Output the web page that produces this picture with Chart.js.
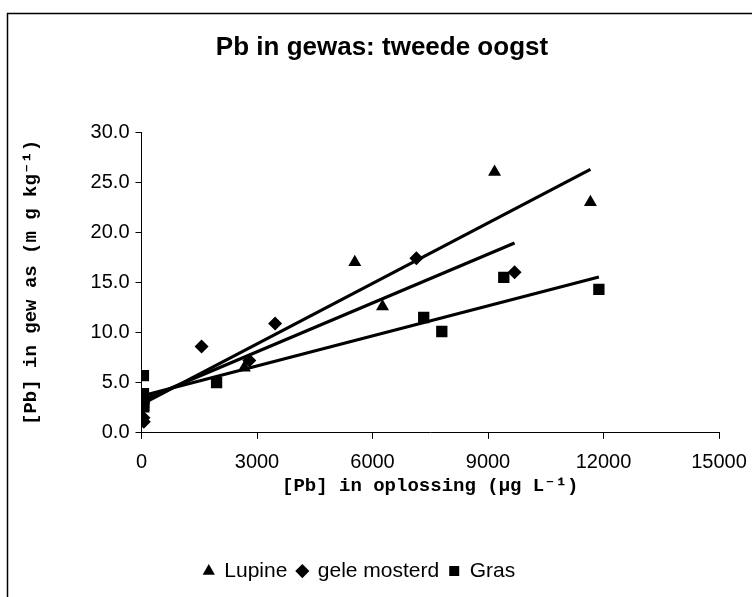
<!DOCTYPE html>
<html><head><meta charset="utf-8">
<script src="https://cdn.jsdelivr.net/npm/chart.js@4.4.0/dist/chart.umd.min.js"></script>
<style>html,body{margin:0;padding:0;background:#fff}#wrap{width:752px;height:597px}</style>
</head><body><div id="wrap"><canvas id="c" width="752" height="597"></canvas></div>
<script>
// ---- data ----
const chartTitle = 'Pb in gewas: tweede oogst';
const xTitle = '[Pb] in oplossing (\u00b5g L\u207b\u00b9)';
const yTitle = '[Pb] in gew as (m g kg\u207b\u00b9)';
const seriesNames = ['Lupine', 'gele mosterd', 'Gras'];

const lupineX = [50, 60, 2670, 5540, 6260, 9170, 11660];
const lupineY = [2.6, 3.3, 6.5, 17.0, 12.6, 26.0, 23.0];

const mosterdX = [50, 60, 1560, 2800, 3470, 7140, 9690];
const mosterdY = [1.5, 1.1, 8.6, 7.2, 10.9, 17.4, 16.0];

const grasX = [50, 50, 60, 60, 1950, 7330, 7800, 9410, 11880];
const grasY = [5.7, 3.9, 3.0, 2.6, 5.0, 11.5, 10.1, 15.5, 14.3];

const xTicks = [0, 3000, 6000, 9000, 12000, 15000];
const yTicks = [0, 5, 10, 15, 20, 25, 30];

// ---- helpers ----
const pts = (xs, ys) => xs.map((x, i) => ({x, y: ys[i]}));
function trend(xs, ys) {
  const n = xs.length;
  const mx = xs.reduce((a, b) => a + b, 0) / n;
  const my = ys.reduce((a, b) => a + b, 0) / n;
  let sxy = 0, sxx = 0;
  for (let i = 0; i < n; i++) { sxy += (xs[i] - mx) * (ys[i] - my); sxx += (xs[i] - mx) ** 2; }
  const b = sxy / sxx, a = my - b * mx;
  const x0 = Math.min(...xs), x1 = Math.max(...xs);
  return [{x: x0, y: a + b * x0}, {x: x1, y: a + b * x1}];
}

const markerDs = (label, data, style, r) => ({
  type: 'scatter', label, data, pointStyle: style, pointRadius: r, pointHoverRadius: r,
  backgroundColor: '#000', borderColor: '#000', borderWidth: 0, showLine: false, order: 2
});
const lineDs = (data) => ({
  type: 'line', label: '_trend', data, showLine: true, pointRadius: 0, borderColor: '#000',
  borderWidth: 3.2, fill: false, tension: 0, order: 1
});

const frame = {
  id: 'frame',
  beforeDraw(chart) {
    const c = chart.ctx;
    c.save();
    c.fillStyle = '#fff'; c.fillRect(0, 0, chart.width, chart.height);
    c.strokeStyle = '#000'; c.lineWidth = 1.5;
    c.strokeRect(7.5, 13.5, 800, 700);
    c.restore();
  },
  afterDraw(chart) {
    const c = chart.ctx;
    c.save();
    c.fillStyle = '#000';
    c.font = 'bold 26px "Liberation Sans", Arial, sans-serif';
    c.textAlign = 'center'; c.textBaseline = 'middle';
    c.fillText(chartTitle, 382, 48);
    c.restore();
  }
};

Chart.defaults.color = '#000';
Chart.defaults.font.family = '"Liberation Sans", Arial, sans-serif';

new Chart(document.getElementById('c'), {
  type: 'scatter',
  data: {
    datasets: [
      markerDs(seriesNames[0], pts(lupineX, lupineY), 'triangle', 7.5),
      markerDs(seriesNames[1], pts(mosterdX, mosterdY), 'rectRot', 7),
      markerDs(seriesNames[2], pts(grasX, grasY), 'rect', 8),
      lineDs(trend(lupineX, lupineY)),
      lineDs(trend(mosterdX, mosterdY)),
      lineDs(trend(grasX, grasY))
    ]
  },
  options: {
    responsive: false,
    devicePixelRatio: 1,
    animation: false,
    layout: {padding: {left: 0, right: 33, top: 132, bottom: 5.4}},
    plugins: {
      title: {display: false},
      tooltip: {enabled: false},
      legend: {
        position: 'bottom',
        labels: {
          usePointStyle: true, boxWidth: 10, boxHeight: 10, padding: 10,
          font: {size: 21}, color: '#000',
          filter: (item) => item.text !== '_trend'
        }
      }
    },
    scales: {
      x: {
        type: 'linear', min: 0, max: 15000,
        afterBuildTicks: (s) => { s.ticks = xTicks.map(v => ({value: v})); },
        afterFit: (s) => { s.height = 117.8; s.paddingRight = 0; s.paddingLeft = 0; },
        ticks: {font: {size: 20}, color: '#000', padding: 12, maxRotation: 0, callback: (v) => String(v)},
        grid: {display: true, drawOnChartArea: false, drawTicks: true, tickLength: 6, color: '#000', lineWidth: 1},
        border: {display: true, color: '#000', width: 1},
        title: {display: true, text: xTitle, color: '#000',
          font: {family: '"Liberation Mono", "Courier New", monospace', size: 19, weight: 'bold'},
          padding: {top: 0, bottom: 53}}
      },
      y: {
        type: 'linear', min: 0, max: 30,
        afterBuildTicks: (s) => { s.ticks = yTicks.map(v => ({value: v})); },
        afterFit: (s) => { s.width = 141.5; },
        ticks: {font: {size: 20}, color: '#000', padding: 6, callback: (v) => Number(v).toFixed(1)},
        grid: {display: true, drawOnChartArea: false, drawTicks: true, tickLength: 6, color: '#000', lineWidth: 1},
        border: {display: true, color: '#000', width: 1},
        title: {display: true, text: yTitle, color: '#000',
          font: {family: '"Liberation Mono", "Courier New", monospace', size: 19, weight: 'bold'},
          padding: {top: 20, bottom: 0}}
      }
    }
  },
  plugins: [frame]
});
</script></body></html>
